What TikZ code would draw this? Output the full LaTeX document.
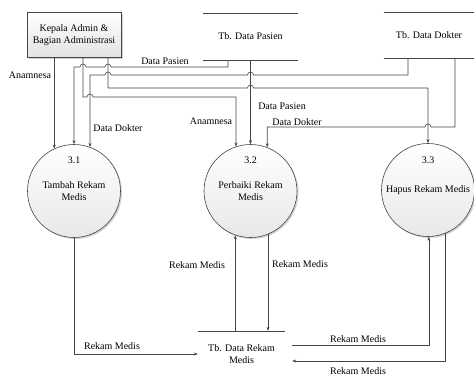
\documentclass[tikz,border=0pt]{standalone}
\usepackage{fontspec}
\setmainfont{Liberation Serif}
\usetikzlibrary{arrows.meta,shadows}
\definecolor{lin}{HTML}{454545}
\tikzset{
  flow/.style={draw=lin, line width=0.6pt, -{Stealth[length=4pt,width=3pt]}},
  plain/.style={draw=lin, line width=0.6pt},
  entity/.style={draw=lin, line width=0.6pt, minimum width=94pt, minimum height=45pt,
    top color=white, bottom color=gray!22, align=center,
    drop shadow={shadow xshift=1.5pt, shadow yshift=-1.5pt, opacity=0.35}},
  proc/.style={circle, draw=lin, line width=0.6pt, minimum size=93pt, inner sep=0pt,
    top color=white, bottom color=gray!18,
    drop shadow={shadow xshift=1.5pt, shadow yshift=-1.5pt, opacity=0.35}},
  store/.style={minimum height=47pt, align=center},
  txt/.style={inner sep=1pt, align=center, text=black},
}
\begin{document}
\begin{tikzpicture}[x=1pt,y=-1pt,font=\fontsize{10}{12}\selectfont]
\useasboundingbox (0,0) rectangle (474,376);
% entities and stores
\node[entity] (admin) at (74,35) {Kepala Admin \&\\Bagian Administrasi};
\node[store, minimum width=95pt] (tbp) at (250.5,36.5) {Tb. Data Pasien};
\draw[plain] (tbp.north west) -- (tbp.north east) (tbp.south west) -- (tbp.south east);
\node[store, minimum width=90pt, minimum height=46pt] (tbd) at (429,35) {Tb. Data Dokter};
\draw[plain] (tbd.north west) -- (tbd.north east) (tbd.south west) -- (tbd.south east);
\node[store, minimum width=87pt, minimum height=46pt] (tbr) at (241.5,354) {Tb. Data Rekam\\Medis};
\draw[plain] (tbr.north west) -- (tbr.north east);
% processes
\node[proc] (c1) at (74,191) {};
\node[proc] (c2) at (250.5,191) {};
\node[proc] (c3) at (428,190) {};
\node[txt] (n1) at (74,160) {3.1};
\node[txt] (p1) at (74,191) {Tambah Rekam\\Medis};
\node[txt] (n2) at (250.5,160) {3.2};
\node[txt] (p2) at (250.5,191) {Perbaiki Rekam\\Medis};
\node[txt] (n3) at (428,160) {3.3};
\node[txt] (p3) at (428,190) {Hapus Rekam Medis};
% top flows
\draw[flow] (admin.south -| c1.115) -- (c1.115);
\draw[flow] ([xshift=-22.5pt]tbp.south) -- (228,67) -- (111,67)
  arc[start angle=0,end angle=180,radius=3pt] -- (86,67)
  arc[start angle=0,end angle=180,radius=3pt] -- (c1.north |- 0,67) -- (c1.north);
\draw[flow] ([xshift=-21pt]tbd.south) -- (408,75) -- (253.5,75)
  arc[start angle=0,end angle=180,radius=3pt] -- (111,75)
  arc[start angle=0,end angle=180,radius=3pt] -- (c1.70 |- 0,75) -- (c1.70);
\draw[flow] ([xshift=34pt]admin.south) -- (108,88) -- (247.5,88)
  arc[start angle=180,end angle=0,radius=3pt] -- (c3.north |- 0,88) -- (c3.north);
\draw[flow] ([xshift=9pt]admin.south) -- (83,97) -- (87,97)
  arc[start angle=180,end angle=0,radius=3pt] -- (c2.108 |- 0,97) -- (c2.108);
\draw[flow] (tbp.south) -- (c2.north);
\draw[flow] ([xshift=26pt]tbd.south) -- (455,127) -- (431,127)
  arc[start angle=0,end angle=180,radius=3pt] -- (c2.69 |- 0,127) -- (c2.69);
% bottom flows
\draw[flow] (c1.south) -- (c1.south |- tbr.west) -- (tbr.west);
\draw[flow] (tbr.north -| c2.-109.5) -- (c2.-109.5);
\draw[flow] (c2.-68) -- (tbr.north -| c2.-68);
\draw[flow] ([shift={(7,-9)}]tbr.east) -- (c3.-89 |- 0,345) -- (c3.-89);
\draw[flow] (c3.-68.6) -- (c3.-68.6 |- 0,361) -- ([shift={(7,7)}]tbr.east);
% labels
\node[txt] (l1) at (30,75) {Anamnesa};
\node[txt] (l2) at (165,61) {Data Pasien};
\node[txt] (l3) at (118,128) {Data Dokter};
\node[txt] (l4) at (211,121) {Anamnesa};
\node[txt] (l5) at (282,106) {Data Pasien};
\node[txt] (l6) at (297,122) {Data Dokter};
\node[txt] (l7) at (112,346) {Rekam Medis};
\node[txt] (l8) at (197,265) {Rekam Medis};
\node[txt] (l9) at (300,264) {Rekam Medis};
\node[txt] (l10) at (358,339) {Rekam Medis};
\node[txt] (l11) at (358,371) {Rekam Medis};
\end{tikzpicture}
\end{document}
